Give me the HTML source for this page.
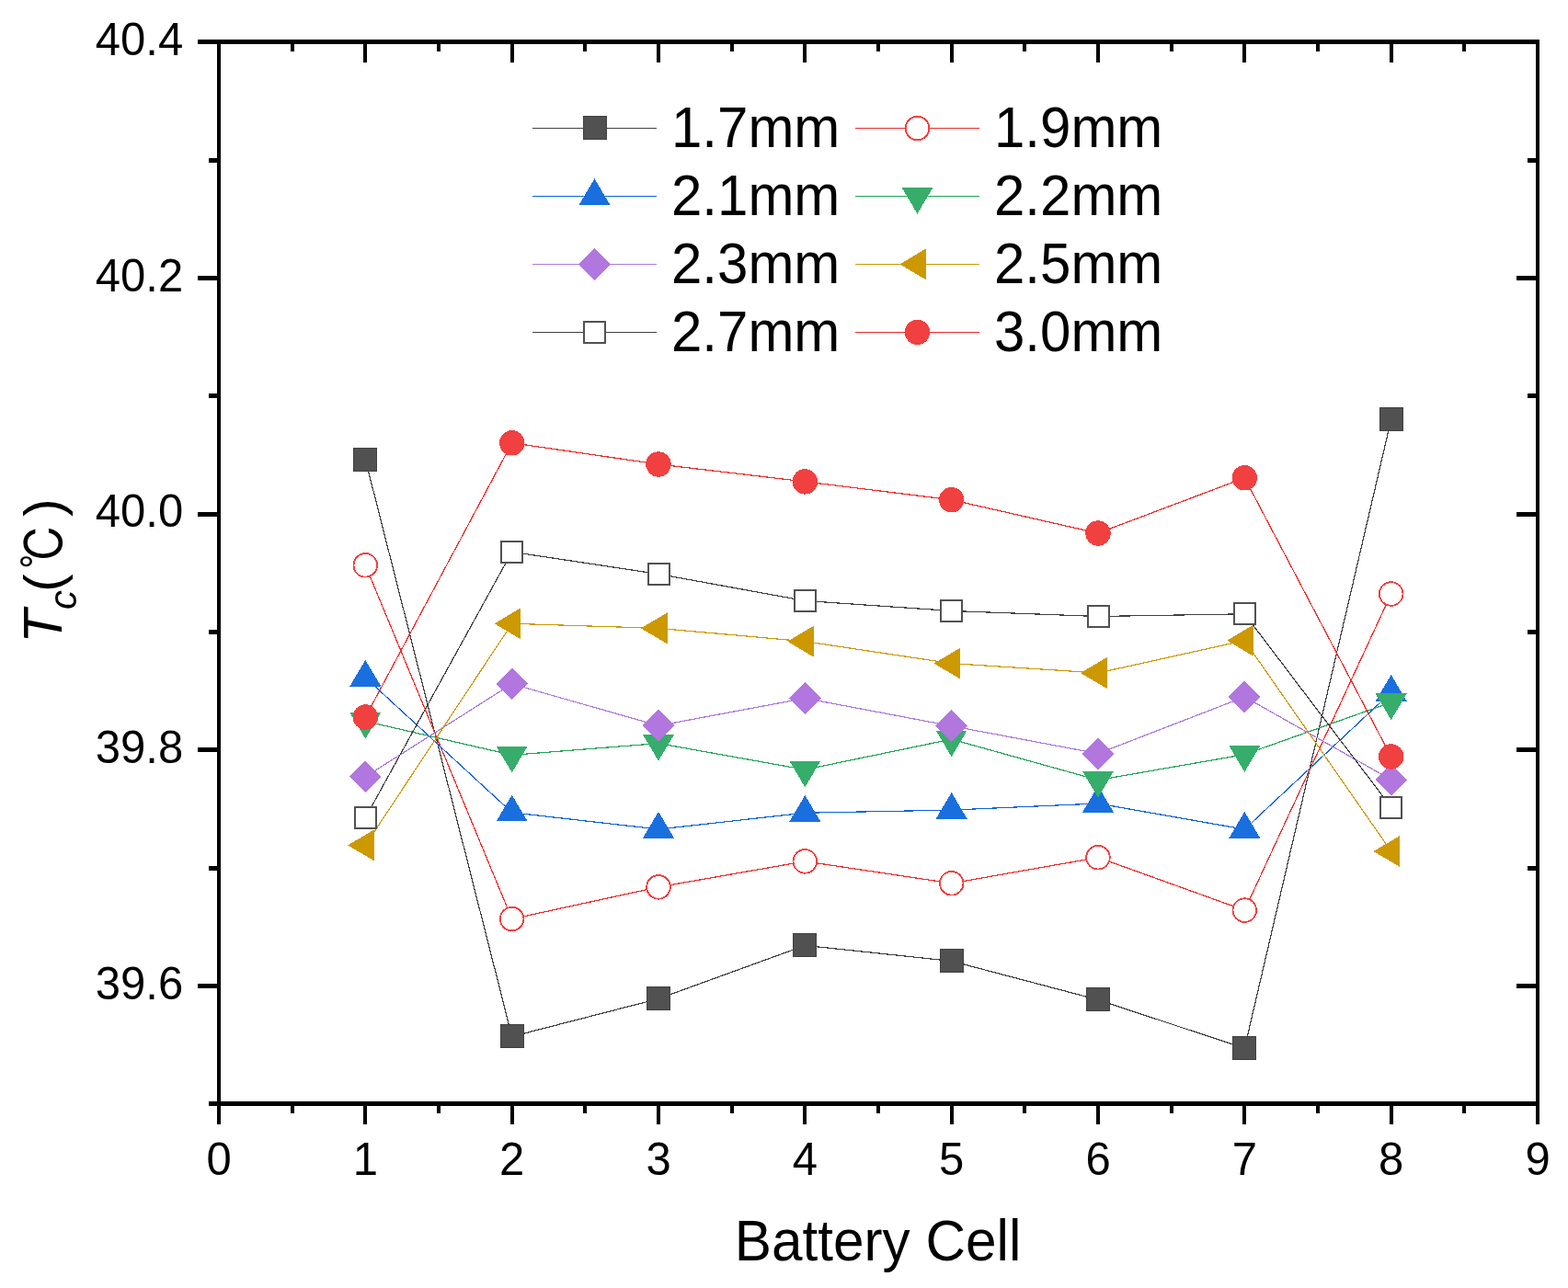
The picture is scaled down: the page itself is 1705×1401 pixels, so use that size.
<!DOCTYPE html>
<html><head><meta charset="utf-8"><title>Battery Cell Tc</title>
<style>html,body{margin:0;padding:0;background:#fff;} svg{display:block;}</style>
</head><body>
<svg width="1705" height="1401" viewBox="0 0 1705 1401">
<rect x="0" y="0" width="1705" height="1401" fill="#ffffff"/>
<polyline points="397.33,499.80 556.67,1127.50 716.00,1086.40 875.33,1028.40 1034.67,1045.40 1194.00,1087.50 1353.33,1140.30 1512.67,456.20" fill="none" stroke="#404040" stroke-width="1.2" stroke-linejoin="round" shape-rendering="crispEdges"/>
<rect x="384.5" y="487.5" width="25" height="25" fill="#515151" stroke="#404040" stroke-width="1" shape-rendering="crispEdges"/>
<rect x="544.5" y="1114.5" width="25" height="25" fill="#515151" stroke="#404040" stroke-width="1" shape-rendering="crispEdges"/>
<rect x="703.5" y="1073.5" width="25" height="25" fill="#515151" stroke="#404040" stroke-width="1" shape-rendering="crispEdges"/>
<rect x="862.5" y="1015.5" width="25" height="25" fill="#515151" stroke="#404040" stroke-width="1" shape-rendering="crispEdges"/>
<rect x="1022.5" y="1032.5" width="25" height="25" fill="#515151" stroke="#404040" stroke-width="1" shape-rendering="crispEdges"/>
<rect x="1181.5" y="1074.5" width="25" height="25" fill="#515151" stroke="#404040" stroke-width="1" shape-rendering="crispEdges"/>
<rect x="1340.5" y="1127.5" width="25" height="25" fill="#515151" stroke="#404040" stroke-width="1" shape-rendering="crispEdges"/>
<rect x="1500.5" y="443.5" width="25" height="25" fill="#515151" stroke="#404040" stroke-width="1" shape-rendering="crispEdges"/>
<polyline points="397.33,614.80 556.67,999.60 716.00,964.90 875.33,936.90 1034.67,960.80 1194.00,932.70 1353.33,990.10 1512.67,646.00" fill="none" stroke="#EE2A2A" stroke-width="1.2" stroke-linejoin="round" shape-rendering="crispEdges"/>
<circle cx="397.33" cy="614.80" r="12.80" fill="#fff" stroke="#F14040" stroke-width="1.8" shape-rendering="crispEdges"/>
<circle cx="556.67" cy="999.60" r="12.80" fill="#fff" stroke="#F14040" stroke-width="1.8" shape-rendering="crispEdges"/>
<circle cx="716.00" cy="964.90" r="12.80" fill="#fff" stroke="#F14040" stroke-width="1.8" shape-rendering="crispEdges"/>
<circle cx="875.33" cy="936.90" r="12.80" fill="#fff" stroke="#F14040" stroke-width="1.8" shape-rendering="crispEdges"/>
<circle cx="1034.67" cy="960.80" r="12.80" fill="#fff" stroke="#F14040" stroke-width="1.8" shape-rendering="crispEdges"/>
<circle cx="1194.00" cy="932.70" r="12.80" fill="#fff" stroke="#F14040" stroke-width="1.8" shape-rendering="crispEdges"/>
<circle cx="1353.33" cy="990.10" r="12.80" fill="#fff" stroke="#F14040" stroke-width="1.8" shape-rendering="crispEdges"/>
<circle cx="1512.67" cy="646.00" r="12.80" fill="#fff" stroke="#F14040" stroke-width="1.8" shape-rendering="crispEdges"/>
<polyline points="397.33,737.00 556.67,883.80 716.00,902.00 875.33,884.20 1034.67,881.10 1194.00,874.00 1353.33,902.10 1512.67,753.10" fill="none" stroke="#0A62DC" stroke-width="1.2" stroke-linejoin="round" shape-rendering="crispEdges"/>
<polygon points="397.33,717.87 414.33,746.57 380.33,746.57" fill="#1A6FDF" shape-rendering="crispEdges"/>
<polygon points="556.67,864.67 573.67,893.37 539.67,893.37" fill="#1A6FDF" shape-rendering="crispEdges"/>
<polygon points="716.00,882.87 733.00,911.57 699.00,911.57" fill="#1A6FDF" shape-rendering="crispEdges"/>
<polygon points="875.33,865.07 892.33,893.77 858.33,893.77" fill="#1A6FDF" shape-rendering="crispEdges"/>
<polygon points="1034.67,861.97 1051.67,890.67 1017.67,890.67" fill="#1A6FDF" shape-rendering="crispEdges"/>
<polygon points="1194.00,854.87 1211.00,883.57 1177.00,883.57" fill="#1A6FDF" shape-rendering="crispEdges"/>
<polygon points="1353.33,882.97 1370.33,911.67 1336.33,911.67" fill="#1A6FDF" shape-rendering="crispEdges"/>
<polygon points="1512.67,733.97 1529.67,762.67 1495.67,762.67" fill="#1A6FDF" shape-rendering="crispEdges"/>
<polyline points="397.33,784.50 556.67,821.30 716.00,808.60 875.33,837.20 1034.67,804.10 1194.00,848.50 1353.33,820.70 1512.67,764.00" fill="none" stroke="#22A458" stroke-width="1.2" stroke-linejoin="round" shape-rendering="crispEdges"/>
<polygon points="397.33,803.63 414.33,774.93 380.33,774.93" fill="#37AD6B" shape-rendering="crispEdges"/>
<polygon points="556.67,840.43 573.67,811.73 539.67,811.73" fill="#37AD6B" shape-rendering="crispEdges"/>
<polygon points="716.00,827.73 733.00,799.03 699.00,799.03" fill="#37AD6B" shape-rendering="crispEdges"/>
<polygon points="875.33,856.33 892.33,827.63 858.33,827.63" fill="#37AD6B" shape-rendering="crispEdges"/>
<polygon points="1034.67,823.23 1051.67,794.53 1017.67,794.53" fill="#37AD6B" shape-rendering="crispEdges"/>
<polygon points="1194.00,867.63 1211.00,838.93 1177.00,838.93" fill="#37AD6B" shape-rendering="crispEdges"/>
<polygon points="1353.33,839.83 1370.33,811.13 1336.33,811.13" fill="#37AD6B" shape-rendering="crispEdges"/>
<polygon points="1512.67,783.13 1529.67,754.43 1495.67,754.43" fill="#37AD6B" shape-rendering="crispEdges"/>
<polyline points="397.33,844.90 556.67,743.90 716.00,789.40 875.33,759.50 1034.67,789.70 1194.00,819.70 1353.33,758.00 1512.67,848.10" fill="none" stroke="#AD78DC" stroke-width="1.2" stroke-linejoin="round" shape-rendering="crispEdges"/>
<polygon points="397.33,827.50 414.73,844.90 397.33,862.30 379.93,844.90" fill="#B177DE" shape-rendering="crispEdges"/>
<polygon points="556.67,726.50 574.07,743.90 556.67,761.30 539.27,743.90" fill="#B177DE" shape-rendering="crispEdges"/>
<polygon points="716.00,772.00 733.40,789.40 716.00,806.80 698.60,789.40" fill="#B177DE" shape-rendering="crispEdges"/>
<polygon points="875.33,742.10 892.73,759.50 875.33,776.90 857.93,759.50" fill="#B177DE" shape-rendering="crispEdges"/>
<polygon points="1034.67,772.30 1052.07,789.70 1034.67,807.10 1017.27,789.70" fill="#B177DE" shape-rendering="crispEdges"/>
<polygon points="1194.00,802.30 1211.40,819.70 1194.00,837.10 1176.60,819.70" fill="#B177DE" shape-rendering="crispEdges"/>
<polygon points="1353.33,740.60 1370.73,758.00 1353.33,775.40 1335.93,758.00" fill="#B177DE" shape-rendering="crispEdges"/>
<polygon points="1512.67,830.70 1530.07,848.10 1512.67,865.50 1495.27,848.10" fill="#B177DE" shape-rendering="crispEdges"/>
<polyline points="397.33,919.40 556.67,678.30 716.00,683.40 875.33,697.70 1034.67,721.60 1194.00,732.00 1353.33,696.70 1512.67,926.00" fill="none" stroke="#CC9900" stroke-width="1.2" stroke-linejoin="round" shape-rendering="crispEdges"/>
<polygon points="378.20,919.40 406.90,902.40 406.90,936.40" fill="#CC9900" shape-rendering="crispEdges"/>
<polygon points="537.53,678.30 566.23,661.30 566.23,695.30" fill="#CC9900" shape-rendering="crispEdges"/>
<polygon points="696.87,683.40 725.57,666.40 725.57,700.40" fill="#CC9900" shape-rendering="crispEdges"/>
<polygon points="856.20,697.70 884.90,680.70 884.90,714.70" fill="#CC9900" shape-rendering="crispEdges"/>
<polygon points="1015.53,721.60 1044.23,704.60 1044.23,738.60" fill="#CC9900" shape-rendering="crispEdges"/>
<polygon points="1174.87,732.00 1203.57,715.00 1203.57,749.00" fill="#CC9900" shape-rendering="crispEdges"/>
<polygon points="1334.20,696.70 1362.90,679.70 1362.90,713.70" fill="#CC9900" shape-rendering="crispEdges"/>
<polygon points="1493.53,926.00 1522.23,909.00 1522.23,943.00" fill="#CC9900" shape-rendering="crispEdges"/>
<polyline points="397.33,889.50 556.67,600.30 716.00,624.40 875.33,653.50 1034.67,664.50 1194.00,670.50 1353.33,667.80 1512.67,878.00" fill="none" stroke="#404040" stroke-width="1.2" stroke-linejoin="round" shape-rendering="crispEdges"/>
<rect x="386" y="878" width="22.6" height="22.6" fill="#fff" stroke="#515151" stroke-width="2" shape-rendering="crispEdges"/>
<rect x="545" y="589" width="22.6" height="22.6" fill="#fff" stroke="#515151" stroke-width="2" shape-rendering="crispEdges"/>
<rect x="705" y="613" width="22.6" height="22.6" fill="#fff" stroke="#515151" stroke-width="2" shape-rendering="crispEdges"/>
<rect x="864" y="642" width="22.6" height="22.6" fill="#fff" stroke="#515151" stroke-width="2" shape-rendering="crispEdges"/>
<rect x="1023" y="653" width="22.6" height="22.6" fill="#fff" stroke="#515151" stroke-width="2" shape-rendering="crispEdges"/>
<rect x="1183" y="659" width="22.6" height="22.6" fill="#fff" stroke="#515151" stroke-width="2" shape-rendering="crispEdges"/>
<rect x="1342" y="656" width="22.6" height="22.6" fill="#fff" stroke="#515151" stroke-width="2" shape-rendering="crispEdges"/>
<rect x="1501" y="867" width="22.6" height="22.6" fill="#fff" stroke="#515151" stroke-width="2" shape-rendering="crispEdges"/>
<polyline points="397.33,780.00 556.67,481.80 716.00,505.00 875.33,523.90 1034.67,543.70 1194.00,580.00 1353.33,519.80 1512.67,823.00" fill="none" stroke="#EE2A2A" stroke-width="1.2" stroke-linejoin="round" shape-rendering="crispEdges"/>
<circle cx="397.33" cy="780.00" r="13.70" fill="#F14040" shape-rendering="crispEdges"/>
<circle cx="556.67" cy="481.80" r="13.70" fill="#F14040" shape-rendering="crispEdges"/>
<circle cx="716.00" cy="505.00" r="13.70" fill="#F14040" shape-rendering="crispEdges"/>
<circle cx="875.33" cy="523.90" r="13.70" fill="#F14040" shape-rendering="crispEdges"/>
<circle cx="1034.67" cy="543.70" r="13.70" fill="#F14040" shape-rendering="crispEdges"/>
<circle cx="1194.00" cy="580.00" r="13.70" fill="#F14040" shape-rendering="crispEdges"/>
<circle cx="1353.33" cy="519.80" r="13.70" fill="#F14040" shape-rendering="crispEdges"/>
<circle cx="1512.67" cy="823.00" r="13.70" fill="#F14040" shape-rendering="crispEdges"/>
<g fill="#000" shape-rendering="crispEdges">
<rect x="236" y="43" width="4" height="1160"/>
<rect x="1670" y="43" width="4" height="1180"/>
<rect x="215" y="43" width="1459" height="5"/>
<rect x="227" y="1198" width="1447" height="5"/>
<rect x="236" y="1203" width="4" height="20"/>
<rect x="395" y="1203" width="4" height="20"/>
<rect x="395" y="48" width="4" height="20"/>
<rect x="555" y="1203" width="4" height="20"/>
<rect x="555" y="48" width="4" height="20"/>
<rect x="714" y="1203" width="4" height="20"/>
<rect x="714" y="48" width="4" height="20"/>
<rect x="873" y="1203" width="4" height="20"/>
<rect x="873" y="48" width="4" height="20"/>
<rect x="1033" y="1203" width="4" height="20"/>
<rect x="1033" y="48" width="4" height="20"/>
<rect x="1192" y="1203" width="4" height="20"/>
<rect x="1192" y="48" width="4" height="20"/>
<rect x="1351" y="1203" width="4" height="20"/>
<rect x="1351" y="48" width="4" height="20"/>
<rect x="1511" y="1203" width="4" height="20"/>
<rect x="1511" y="48" width="4" height="20"/>
<rect x="316" y="1203" width="4" height="8"/>
<rect x="316" y="48" width="4" height="8"/>
<rect x="475" y="1203" width="4" height="8"/>
<rect x="475" y="48" width="4" height="8"/>
<rect x="634" y="1203" width="4" height="8"/>
<rect x="634" y="48" width="4" height="8"/>
<rect x="794" y="1203" width="4" height="8"/>
<rect x="794" y="48" width="4" height="8"/>
<rect x="953" y="1203" width="4" height="8"/>
<rect x="953" y="48" width="4" height="8"/>
<rect x="1112" y="1203" width="4" height="8"/>
<rect x="1112" y="48" width="4" height="8"/>
<rect x="1272" y="1203" width="4" height="8"/>
<rect x="1272" y="48" width="4" height="8"/>
<rect x="1431" y="1203" width="4" height="8"/>
<rect x="1431" y="48" width="4" height="8"/>
<rect x="1590" y="1203" width="4" height="8"/>
<rect x="1590" y="48" width="4" height="8"/>
<rect x="227" y="172" width="9" height="5"/>
<rect x="1661" y="172" width="9" height="5"/>
<rect x="215" y="300" width="21" height="5"/>
<rect x="1649" y="300" width="21" height="5"/>
<rect x="227" y="428" width="9" height="5"/>
<rect x="1661" y="428" width="9" height="5"/>
<rect x="215" y="557" width="21" height="5"/>
<rect x="1649" y="557" width="21" height="5"/>
<rect x="227" y="685" width="9" height="5"/>
<rect x="1661" y="685" width="9" height="5"/>
<rect x="215" y="813" width="21" height="5"/>
<rect x="1649" y="813" width="21" height="5"/>
<rect x="227" y="942" width="9" height="5"/>
<rect x="1661" y="942" width="9" height="5"/>
<rect x="215" y="1070" width="21" height="5"/>
<rect x="1649" y="1070" width="21" height="5"/>
</g>
<g font-family="'Liberation Sans', sans-serif" font-size="49" fill="#000" text-anchor="middle">
<text transform="translate(238.00,1277.5) scale(1,1.035)">0</text>
<text transform="translate(397.33,1277.5) scale(1,1.035)">1</text>
<text transform="translate(556.67,1277.5) scale(1,1.035)">2</text>
<text transform="translate(716.00,1277.5) scale(1,1.035)">3</text>
<text transform="translate(875.33,1277.5) scale(1,1.035)">4</text>
<text transform="translate(1034.67,1277.5) scale(1,1.035)">5</text>
<text transform="translate(1194.00,1277.5) scale(1,1.035)">6</text>
<text transform="translate(1353.33,1277.5) scale(1,1.035)">7</text>
<text transform="translate(1512.67,1277.5) scale(1,1.035)">8</text>
<text transform="translate(1672.00,1277.5) scale(1,1.035)">9</text>
</g>
<g font-family="'Liberation Sans', sans-serif" font-size="49" fill="#000" text-anchor="end">
<text transform="translate(199.2,60.00) scale(1,1.035)">40.4</text>
<text transform="translate(199.2,316.67) scale(1,1.035)">40.2</text>
<text transform="translate(199.2,573.33) scale(1,1.035)">40.0</text>
<text transform="translate(199.2,830.00) scale(1,1.035)">39.8</text>
<text transform="translate(199.2,1086.67) scale(1,1.035)">39.6</text>
</g>
<text transform="translate(954.5,1370.5) scale(1,1.035)" font-family="'Liberation Sans', sans-serif" font-size="60.3" text-anchor="middle" fill="#000">Battery Cell</text>
<g transform="translate(67,699.7) rotate(-90)" fill="#000">
<text x="0" y="0" font-family="'Liberation Sans', sans-serif" font-size="60" font-style="italic">T<tspan font-size="42" dy="16">c</tspan></text>
<text x="56" y="0" font-family="'Liberation Sans', sans-serif" font-size="58">(</text>
<text x="0" y="0" font-family="'IPAGothic', 'Noto Sans CJK JP', sans-serif" font-size="58" transform="translate(81,2.5) scale(0.85,1)">℃</text>
<text x="137.9" y="0" font-family="'Liberation Sans', sans-serif" font-size="58">)</text>
</g>
<line x1="579" y1="139.50" x2="714" y2="139.50" stroke="#404040" stroke-width="1.2" shape-rendering="crispEdges"/>
<rect x="634.5" y="126.5" width="25" height="25" fill="#515151" stroke="#404040" stroke-width="1" shape-rendering="crispEdges"/>
<text transform="translate(730,160.20) scale(1,1.035)" font-family="'Liberation Sans', sans-serif" font-size="60" fill="#000">1.7mm</text>
<line x1="930" y1="139.50" x2="1065" y2="139.50" stroke="#EE2A2A" stroke-width="1.2" shape-rendering="crispEdges"/>
<circle cx="997.50" cy="139.50" r="12.80" fill="#fff" stroke="#F14040" stroke-width="1.8" shape-rendering="crispEdges"/>
<text transform="translate(1081,160.20) scale(1,1.035)" font-family="'Liberation Sans', sans-serif" font-size="60" fill="#000">1.9mm</text>
<line x1="579" y1="213.45" x2="714" y2="213.45" stroke="#0A62DC" stroke-width="1.2" shape-rendering="crispEdges"/>
<polygon points="646.50,194.32 663.50,223.02 629.50,223.02" fill="#1A6FDF" shape-rendering="crispEdges"/>
<text transform="translate(730,234.15) scale(1,1.035)" font-family="'Liberation Sans', sans-serif" font-size="60" fill="#000">2.1mm</text>
<line x1="930" y1="213.45" x2="1065" y2="213.45" stroke="#22A458" stroke-width="1.2" shape-rendering="crispEdges"/>
<polygon points="997.50,232.58 1014.50,203.88 980.50,203.88" fill="#37AD6B" shape-rendering="crispEdges"/>
<text transform="translate(1081,234.15) scale(1,1.035)" font-family="'Liberation Sans', sans-serif" font-size="60" fill="#000">2.2mm</text>
<line x1="579" y1="287.40" x2="714" y2="287.40" stroke="#AD78DC" stroke-width="1.2" shape-rendering="crispEdges"/>
<polygon points="646.50,270.00 663.90,287.40 646.50,304.80 629.10,287.40" fill="#B177DE" shape-rendering="crispEdges"/>
<text transform="translate(730,308.10) scale(1,1.035)" font-family="'Liberation Sans', sans-serif" font-size="60" fill="#000">2.3mm</text>
<line x1="930" y1="287.40" x2="1065" y2="287.40" stroke="#CC9900" stroke-width="1.2" shape-rendering="crispEdges"/>
<polygon points="978.37,287.40 1007.07,270.40 1007.07,304.40" fill="#CC9900" shape-rendering="crispEdges"/>
<text transform="translate(1081,308.10) scale(1,1.035)" font-family="'Liberation Sans', sans-serif" font-size="60" fill="#000">2.5mm</text>
<line x1="579" y1="361.35" x2="714" y2="361.35" stroke="#404040" stroke-width="1.2" shape-rendering="crispEdges"/>
<rect x="635" y="350" width="22.6" height="22.6" fill="#fff" stroke="#515151" stroke-width="2" shape-rendering="crispEdges"/>
<text transform="translate(730,382.05) scale(1,1.035)" font-family="'Liberation Sans', sans-serif" font-size="60" fill="#000">2.7mm</text>
<line x1="930" y1="361.35" x2="1065" y2="361.35" stroke="#EE2A2A" stroke-width="1.2" shape-rendering="crispEdges"/>
<circle cx="997.50" cy="361.35" r="13.70" fill="#F14040" shape-rendering="crispEdges"/>
<text transform="translate(1081,382.05) scale(1,1.035)" font-family="'Liberation Sans', sans-serif" font-size="60" fill="#000">3.0mm</text>
</svg>
</body></html>
